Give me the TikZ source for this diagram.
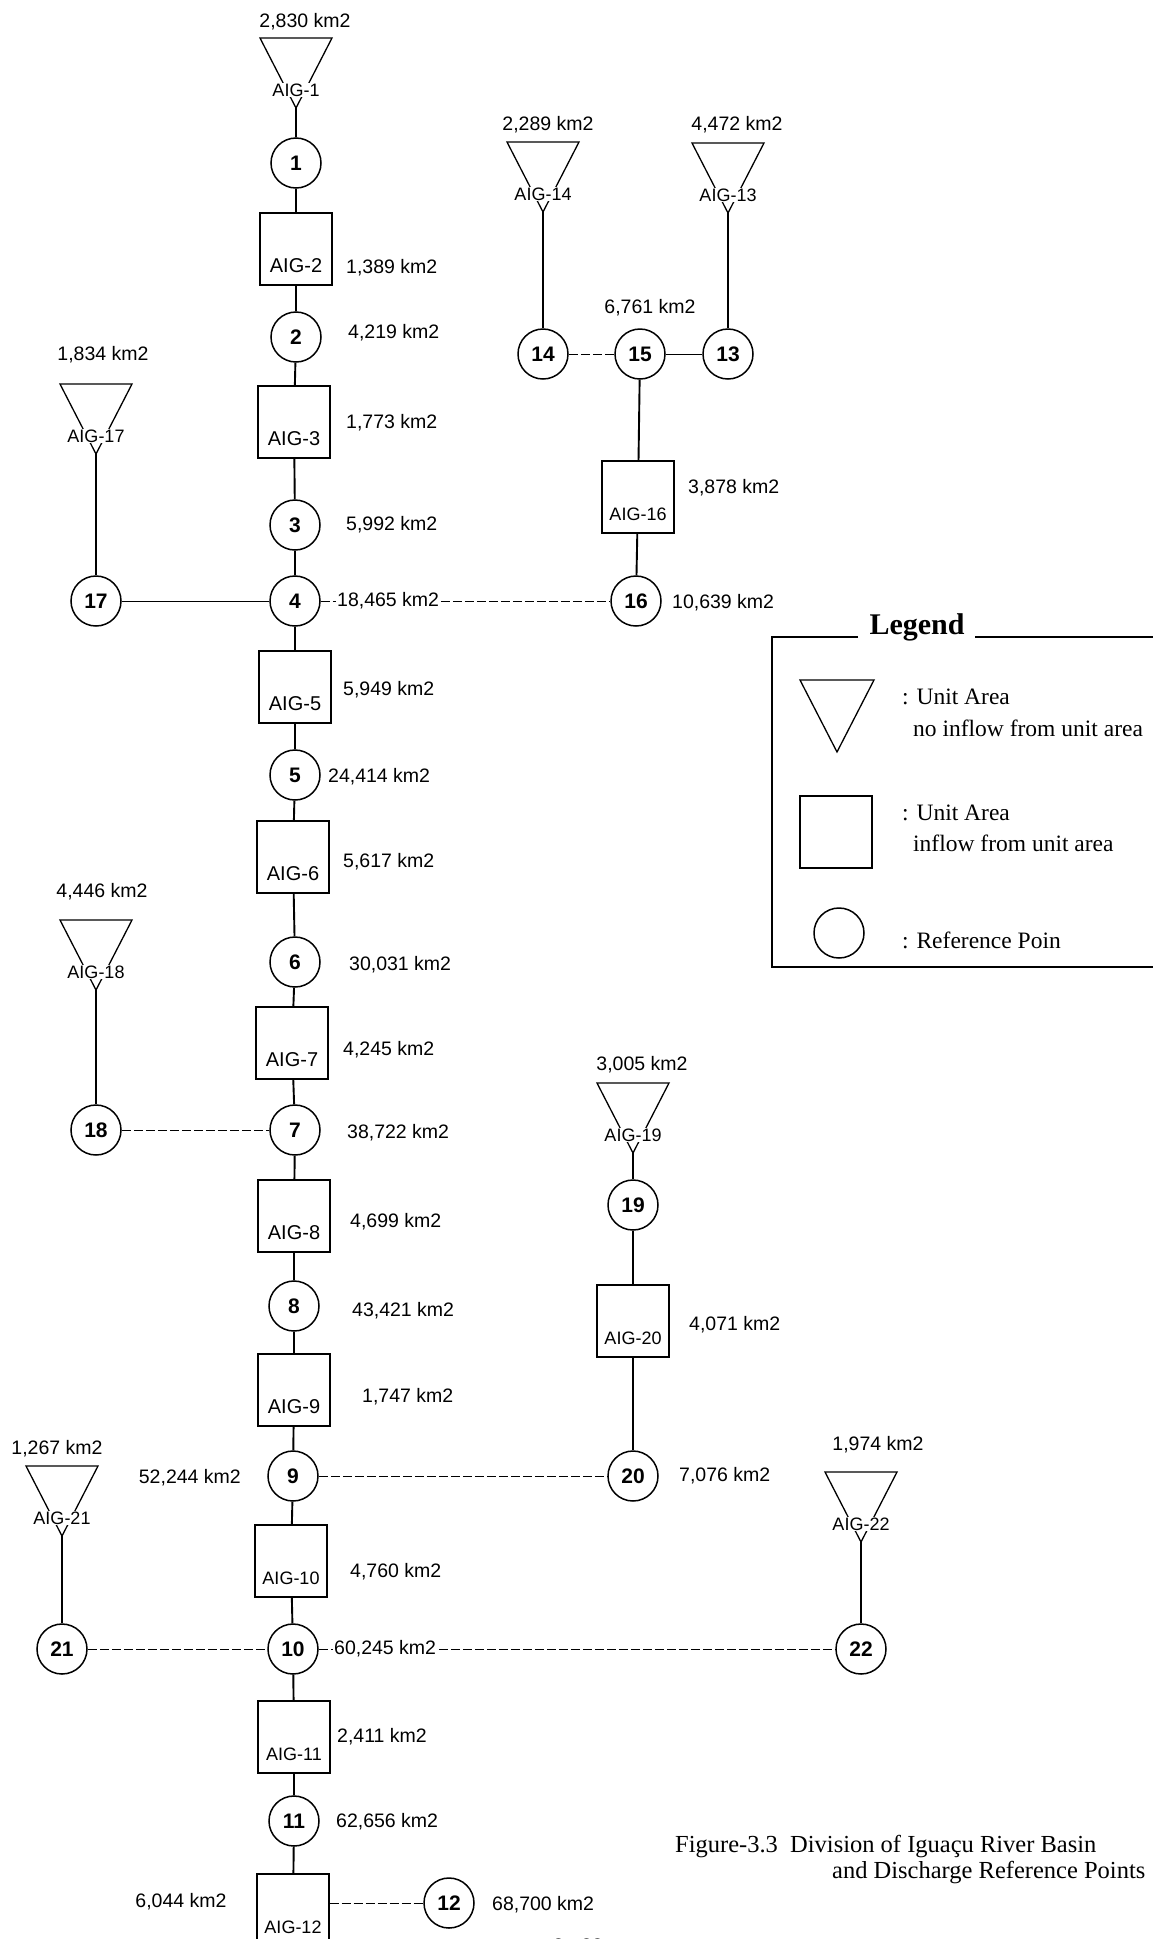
\documentclass[tikz,border=0pt]{standalone}
\usepackage{fontspec}
\setmainfont{Liberation Serif}
\setsansfont{Liberation Sans}
\tikzset{
 refpt/.style={circle, draw, line width=1.5pt, minimum size=50pt, inner sep=0pt, font=\sffamily\bfseries\fontsize{21}{21}\selectfont},
 unitbox/.style={rectangle, draw, line width=1.3pt, minimum width=72pt, minimum height=72pt, inner sep=0pt},
 aig/.style={font=\sffamily\fontsize{18}{18}\selectfont, inner sep=1pt},
 aigbig/.style={font=\sffamily\fontsize{20}{20}\selectfont, inner sep=1pt},
 area/.style={font=\sffamily\fontsize{19.5}{19.5}\selectfont, inner sep=1pt},
 vline/.style={line width=1.9pt},
 hline/.style={line width=0.9pt},
 hdash/.style={line width=0.9pt, dash pattern=on 9pt off 3pt},
 tri/.style={line width=1.3pt, line join=miter},
 legtext/.style={font=\fontsize{23.5}{23.5}\selectfont, inner sep=0pt, anchor=west},
}
% name, cx, top, AIG text, area text, area x, area y
\newcommand{\unitarea}[7]{%
 \draw[tri] ({#2-36},{#3}) -- ({#2+36},{#3}) -- ({#2},{#3+70}) -- cycle;
 \node[aig, fill=white] (#1t) at ({#2},{#3+52}) {#4};
 \coordinate (#1) at ({#2},{#3+70});
 \node[area] (#1a) at ({#6},{#7}) {#5};
}
% name, x, y, text, text style
\newcommand{\ubox}[5]{%
 \node[unitbox] (#1) at ({#2},{#3}) {};
 \node[#5] (#1l) at ({#2},{#3+17}) {#4};
}
\begin{document}
\begin{tikzpicture}[x=1pt,y=-1pt]
\useasboundingbox (0,0) rectangle (1152,1939);

% ---- main column
\node[refpt] (c1) at (296,163) {1};
\ubox{b2}{296}{249}{AIG-2}{aigbig}
\node[refpt] (c2) at (296,337) {2};
\ubox{b3}{294}{422}{AIG-3}{aigbig}
\node[refpt] (c3) at (295,525) {3};
\node[refpt] (c4) at (295,601) {4};
\ubox{b5}{295}{687}{AIG-5}{aigbig}
\node[refpt] (c5) at (295,775) {5};
\ubox{b6}{293}{857}{AIG-6}{aigbig}
\node[refpt] (c6) at (295,962) {6};
\ubox{b7}{292}{1043}{AIG-7}{aigbig}
\node[refpt] (c7) at (295,1130) {7};
\ubox{b8}{294}{1216}{AIG-8}{aigbig}
\node[refpt] (c8) at (294,1306) {8};
\ubox{b9}{294}{1390}{AIG-9}{aigbig}
\node[refpt] (c9) at (293,1476) {9};
\ubox{b10}{291}{1561}{AIG-10}{aig}
\node[refpt] (c10) at (293,1649) {10};
\ubox{b11}{294}{1737}{AIG-11}{aig}
\node[refpt] (c11) at (294,1821) {11};
\ubox{b12}{293}{1910}{AIG-12}{aig}
\node[refpt] (c12) at (449,1903) {12};

% ---- side branches
\node[refpt] (c17) at (96,601) {17};
\node[refpt] (c18) at (96,1130) {18};
\node[refpt] (c21) at (62,1649) {21};
\node[refpt] (c22) at (861,1649) {22};
\node[refpt] (c19) at (633,1205) {19};
\ubox{b20}{633}{1321}{AIG-20}{aig}
\node[refpt] (c20) at (633,1476) {20};
\node[refpt] (c14) at (543,354) {14};
\node[refpt] (c15) at (640,354) {15};
\node[refpt] (c13) at (728,354) {13};
\ubox{b16}{638}{497}{AIG-16}{aig}
\node[refpt] (c16) at (636,601) {16};

% ---- unit areas (triangles)
\unitarea{t1}{296}{38}{AIG-1}{2,830 km2}{305}{22}
\unitarea{t14}{543}{142}{AIG-14}{2,289 km2}{548}{125}
\unitarea{t13}{728}{143}{AIG-13}{4,472 km2}{737}{125}
\unitarea{t17}{96}{384}{AIG-17}{1,834 km2}{103}{355}
\unitarea{t18}{96}{920}{AIG-18}{4,446 km2}{102}{892}
\unitarea{t19}{633}{1083}{AIG-19}{3,005 km2}{642}{1065}
\unitarea{t21}{62}{1466}{AIG-21}{1,267 km2}{57}{1449}
\unitarea{t22}{861}{1472}{AIG-22}{1,974 km2}{878}{1445}

% ---- vertical connectors
\draw[vline] (t1) -- (c1) -- (b2) -- (c2) -- (b3) -- (c3) -- (c4) -- (b5) -- (c5) -- (b6) -- (c6) -- (b7) -- (c7) -- (b8) -- (c8) -- (b9) -- (c9) -- (b10) -- (c10) -- (b11) -- (c11) -- (b12);
\draw[vline] (t17) -- (c17);
\draw[vline] (t18) -- (c18);
\draw[vline] (t21) -- (c21);
\draw[vline] (t22) -- (c22);
\draw[vline] (t19) -- (c19) -- (b20) -- (c20);
\draw[vline] (t14) -- (c14);
\draw[vline] (t13) -- (c13);
\draw[vline] (c15) -- (b16) -- (c16);

% ---- horizontal connectors
\draw[hline] (c17) -- (c4);
\draw[hdash] (c4) -- (c16);
\draw[hdash] (c14) -- (c15);
\draw[hline] (c15) -- (c13);
\draw[hdash] (c18) -- (c7);
\draw[hdash] (c9) -- (c20);
\draw[hdash] (c21) -- (c10);
\draw[hdash] (c10) -- (c22);
\draw[hdash] (b12.east |- c12) -- (c12);

% ---- area labels
\node[area, anchor=west] (a2) at (345,268) {1,389 km2};
\node[area, anchor=west] (r2) at (347,333) {4,219 km2};
\node[area, anchor=west] (a3) at (345,423) {1,773 km2};
\node[area, anchor=west] (r3) at (345,525) {5,992 km2};
\node[area, anchor=west, fill=white] (r4) at (336,601) {18,465 km2};
\node[area, anchor=west] (a5) at (342,690) {5,949 km2};
\node[area, anchor=west] (r5) at (327,777) {24,414 km2};
\node[area, anchor=west] (a6) at (342,862) {5,617 km2};
\node[area, anchor=west] (r6) at (348,965) {30,031 km2};
\node[area, anchor=west] (a7) at (342,1050) {4,245 km2};
\node[area, anchor=west] (r7) at (346,1133) {38,722 km2};
\node[area, anchor=west] (a8) at (349,1222) {4,699 km2};
\node[area, anchor=west] (r8) at (351,1311) {43,421 km2};
\node[area, anchor=west] (a9) at (361,1397) {1,747 km2};
\node[area, anchor=east] (r9) at (242,1478) {52,244 km2};
\node[area, anchor=west] (a10) at (349,1572) {4,760 km2};
\node[area, anchor=west, fill=white] (r10) at (333,1649) {60,245 km2};
\node[area, anchor=west] (a11) at (336,1737) {2,411 km2};
\node[area, anchor=west] (r11) at (335,1822) {62,656 km2};
\node[area] (a12) at (181,1902) {6,044 km2};
\node[area, anchor=west] (r12) at (491,1905) {68,700 km2};
\node[area] (r15) at (650,308) {6,761 km2};
\node[area, anchor=west] (a16) at (687,488) {3,878 km2};
\node[area, anchor=west] (r16) at (671,603) {10,639 km2};
\node[area, anchor=west] (a20) at (688,1325) {4,071 km2};
\node[area, anchor=west] (r20) at (678,1476) {7,076 km2};

% ---- legend
\draw[line width=1.1pt] (858,637) -- (772,637) -- (772,967) -- (1160,967);
\draw[line width=1.1pt] (975,637) -- (1160,637);
\node[font=\bfseries\fontsize{30}{30}\selectfont, inner sep=0pt] (leg) at (917,627) {Legend};
\draw[tri] (800,680) -- (874,680) -- (837,752) -- cycle;
\node[unitbox] (lbox) at (836,832) {};
\node[refpt] (lcirc) at (839,933) {};
\node[legtext] (lt1) at (902,697) {: Unit Area};
\node[legtext] (lt2) at (913,728) {no inflow from unit area};
\node[legtext] (lt3) at (902,813) {: Unit Area};
\node[legtext] (lt4) at (913,843) {inflow from unit area};
\node[legtext] (lt5) at (902,940) {: Reference Poin};

% ---- caption
\node[font=\fontsize{24.5}{24.5}\selectfont, inner sep=0pt, anchor=west] (cap1) at (675,1846) {Figure-3.3\ \ Division of Iguaçu River Basin};
\node[font=\fontsize{24.5}{24.5}\selectfont, inner sep=0pt, anchor=west] (cap2) at (832,1872) {and Discharge Reference Points};
\node[area] (pg) at (578,1946) {3 - 23};
\end{tikzpicture}
\end{document}
